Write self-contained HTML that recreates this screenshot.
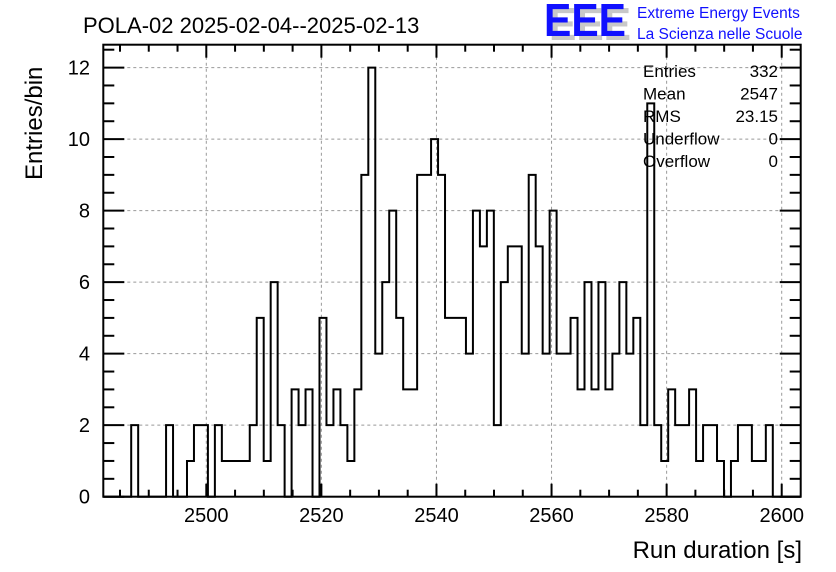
<!DOCTYPE html>
<html><head><meta charset="utf-8"><style>
body{margin:0;background:#fff}
svg{display:block;font-family:"Liberation Sans",sans-serif}
</style></head><body>
<svg id="chart" width="836" height="572" viewBox="0 0 836 572">
<rect width="836" height="572" fill="#fff"/>
<text x="83" y="33" font-size="22">POLA-02 2025-02-04--2025-02-13</text>
<g font-weight="bold" font-size="46">
<text x="549" y="40" fill="#c8c8c8" textLength="82" lengthAdjust="spacingAndGlyphs">EEE</text>
<text x="544" y="36" fill="#1010ff" textLength="82" lengthAdjust="spacingAndGlyphs">EEE</text>
</g>
<text x="637" y="18" font-size="15.5" fill="#1010ff">Extreme Energy Events</text>
<text x="637" y="39" font-size="15.5" fill="#1010ff">La Scienza nelle Scuole</text>
<g id="grid"></g>
<g id="ticks"></g>
<path id="hist" fill="none" stroke="#000" stroke-width="2"/>
<rect x="103.3" y="44.7" width="697.4" height="452" fill="none" stroke="#000" stroke-width="2"/>
<g id="labels" font-size="20"></g>
<text transform="translate(42,180) rotate(-90)" font-size="24">Entries/bin</text>
<text x="802" y="558" font-size="24" text-anchor="end">Run duration [s]</text>
<g id="stats" font-size="17"></g>
</svg>
<script>
const counts = [0,0,0,0,2,0,0,0,0,2,0,0,1,2,2,0,2,1,1,1,1,2,5,1,6,2,0,3,2,3,0,5,2,3,2,1,3,9,12,4,6,8,5,3,3,9,9,10,9,5,5,5,4,8,7,8,2,6,7,7,4,9,7,4,8,4,4,5,3,6,3,6,3,4,6,4,5,2,11,2,1,3,2,2,3,1,2,2,1,0,1,2,2,1,1,2,0,0,0,0];
const xTickLabels = [2500,2520,2540,2560,2580,2600];
const yTickLabels = [0,2,4,6,8,10,12];
const statNames = ["Entries","Mean","RMS","Underflow","Overflow"];
const statValues = ["332","2547","23.15","0","0"];
const xMin = 2482.1, binW = 1.212;

const L=103.3,R=800.7,T=44.7,B=496.7;
const xMax = xMin + counts.length*binW, yMax = 12.64;
const sx = v => L + (v-xMin)/(xMax-xMin)*(R-L);
const sy = v => B - v/yMax*(B-T);
const NS="http://www.w3.org/2000/svg";
function mk(tag, parent, attrs){const e=document.createElementNS(NS,tag);for(const k in attrs)e.setAttribute(k,attrs[k]);parent.appendChild(e);return e;}
const grid=document.getElementById('grid'), ticks=document.getElementById('ticks'), labels=document.getElementById('labels');
xTickLabels.forEach(v=>{
  const x=sx(v);
  const g=mk('line',grid,{x1:x,x2:x,y1:T,y2:B,stroke:'#999','stroke-dasharray':'3,3'});
  
  
  const t=mk('text',labels,{x:x,y:522,'text-anchor':'middle'}); t.textContent=v;
  
  
});
for(let v=2485;v<=2600;v+=5){
  const x=sx(v), len=(v%20===0)?13:7;
  const a=mk('line',ticks,{x1:x,x2:x,y1:B,y2:B-len,stroke:'#000','stroke-width':2});
  
  
  const b=mk('line',ticks,{x1:x,x2:x,y1:T,y2:T+len,stroke:'#000','stroke-width':2});
  
  
}
yTickLabels.forEach(v=>{
  const y=sy(v);
  if(v>0){const g=mk('line',grid,{x1:L,x2:R,y1:y,y2:y,stroke:'#999','stroke-dasharray':'3,3'});
  
  }
  const t=mk('text',labels,{x:90,y:y+7,'text-anchor':'end'}); t.textContent=v;
  
  
});
for(let v=0;v<=12.5;v+=0.5){
  const y=sy(v), len=(v%2===0)?21:11;
  const a=mk('line',ticks,{x1:L,x2:L+len,y1:y,y2:y,stroke:'#000','stroke-width':2});
  
  
  const b=mk('line',ticks,{x1:R,x2:R-len,y1:y,y2:y,stroke:'#000','stroke-width':2});
  
  
}
let d='M'+sx(xMin)+','+sy(0);
counts.forEach((c,i)=>{const x0=sx(xMin+i*binW),x1=sx(xMin+(i+1)*binW);d+=' L'+x0+','+sy(c)+' L'+x1+','+sy(c);});
d+=' L'+sx(xMax)+','+sy(0);
document.getElementById('hist').setAttribute('d',d);
const st=document.getElementById('stats');
statNames.forEach((n,i)=>{
  const y=77+i*22.5;
  const a=mk('text',st,{x:643,y:y}); a.textContent=n;
  
  
  const b=mk('text',st,{x:778,y:y,'text-anchor':'end'}); b.textContent=statValues[i];
  
  
});
</script>
</body></html>
